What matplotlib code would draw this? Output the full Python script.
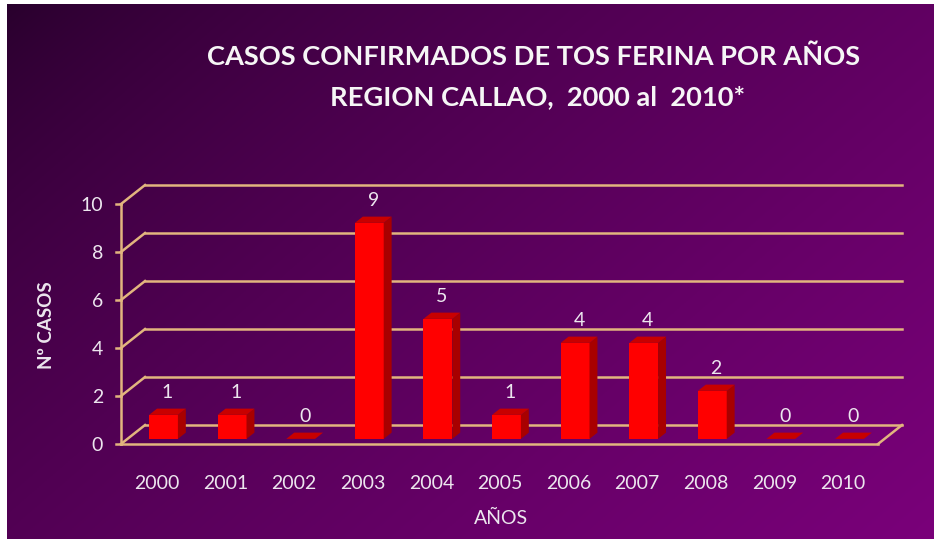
import numpy as np
import matplotlib
matplotlib.use("Agg")
import matplotlib.pyplot as plt
from matplotlib.patches import Polygon

# ---- data ----
years = ["2000", "2001", "2002", "2003", "2004", "2005", "2006", "2007", "2008", "2009", "2010"]
cases = [1, 1, 0, 9, 5, 1, 4, 4, 2, 0, 0]
yticks = [0, 2, 4, 6, 8, 10]
title1 = "CASOS CONFIRMADOS DE TOS FERINA POR AÑOS"
title2 = "REGION CALLAO,  2000 al  2010*"
ylabel = "Nº CASOS"
xlabel = "AÑOS"

W, H = 934, 539
fig = plt.figure(figsize=(W / 100, H / 100), dpi=100, facecolor="white")
plt.rcParams["font.family"] = ["Lato", "DejaVu Sans"]

# ---- background gradient ----
bg = fig.add_axes([7 / W, 0, 1 - 7 / W, 1 - 4 / H])
bg.set_axis_off()
gx = np.linspace(0, 1, 400)[None, :]
gy = np.linspace(0, 1, 240)[:, None]
t = np.clip(0.6 * gx + 0.4 * gy, 0, 1) ** 0.72
c0 = np.array([0x28, 0x00, 0x2c]) / 255
c1 = np.array([0x7a, 0x00, 0x7a]) / 255
img = c0[None, None, :] * (1 - t[..., None]) + c1[None, None, :] * t[..., None]
bg.imshow(img, aspect="auto", extent=[0, 1, 0, 1], origin="upper")
bg.set_xlim(0, 1)
bg.set_ylim(0, 1)

# ---- main axes (front plane) ----
ax = fig.add_axes([121 / W, 95 / H, 757 / W, 240 / H])
ax.patch.set_alpha(0)
xmin, xmax = -0.525, 10.51
ax.set_xlim(xmin, xmax)
ax.set_ylim(0, 10)
for s in ax.spines.values():
    s.set_visible(False)

DX, DY = 0.35, 0.79          # depth offset (data units)
grid_c = "#e2b57e"
lw = 1.8
txt_c = "#ece6ee"

# back wall grid + left diagonals
for yv in yticks:
    ax.plot([xmin + DX, xmax + DX], [yv + DY, yv + DY], color=grid_c, lw=lw, clip_on=False, zorder=1)
    ax.plot([xmin, xmin + DX], [yv, yv + DY], color=grid_c, lw=lw, clip_on=False, zorder=1)
    ax.plot([xmin - 0.07, xmin], [yv, yv], color=grid_c, lw=lw, clip_on=False, zorder=1)
# front axis and floor
ax.plot([xmin, xmin], [0, 10], color=grid_c, lw=lw, clip_on=False, zorder=1)
ax.plot([xmin, xmax], [0, 0], color=grid_c, lw=lw, clip_on=False, zorder=4)
ax.plot([xmax, xmax + DX], [0, DY], color=grid_c, lw=lw, clip_on=False, zorder=4)

# ---- 3D bars ----
f0, f1 = 0.27, 0.60
bw = 0.42
x = np.arange(len(years))
fx, fy = f0 * DX, f0 * DY
sx, sy = (f1 - f0) * DX, (f1 - f0) * DY
ax.bar(x + fx, cases, width=bw, bottom=fy, color="#ff0000", edgecolor="none", zorder=3, clip_on=False)
for xi, v in zip(x, cases):
    l = xi + fx - bw / 2
    r = xi + fx + bw / 2
    top = fy + v
    if v > 0:
        side = Polygon([(r, fy), (r + sx, fy + sy), (r + sx, top + sy), (r, top)],
                       closed=True, facecolor="#a80000", edgecolor="none", zorder=3, clip_on=False)
        ax.add_patch(side)
    topf = Polygon([(l, top), (r, top), (r + sx, top + sy), (l + sx, top + sy)],
                   closed=True, facecolor="#c80000", edgecolor="none", zorder=3, clip_on=False)
    ax.add_patch(topf)
    ax.annotate(str(v), (xi + fx + sx / 2, top), xytext=(0, 16), textcoords="offset points",
                ha="center", va="center", fontsize=14, color=txt_c, zorder=5)

# ---- ticks ----
ax.set_yticks(yticks)
ax.set_yticklabels([str(v) for v in yticks])
ax.set_xticks(x)
ax.set_xticklabels(years)
ax.tick_params(axis="y", length=0, pad=13, labelsize=14, labelcolor=txt_c)
ax.tick_params(axis="x", length=0, pad=22, labelsize=14, labelcolor=txt_c)

# ---- labels ----
fig.text(47 / W, 1 - 325 / H, ylabel, rotation=90, ha="center", va="center",
         fontsize=13.5, fontweight="bold", color=txt_c)
fig.text(501 / W, 1 - 518 / H, xlabel, ha="center", va="center",
         fontsize=14, color=txt_c)
fig.text(534 / W, 1 - 57 / H, title1, ha="center", va="center",
         fontsize=19.6, fontweight="bold", color="#f6f6f6")
fig.text(538 / W, 1 - 97 / H, title2, ha="center", va="center",
         fontsize=19.6, fontweight="bold", color="#f6f6f6")

fig.savefig("out.png", dpi=100, facecolor=fig.get_facecolor())
